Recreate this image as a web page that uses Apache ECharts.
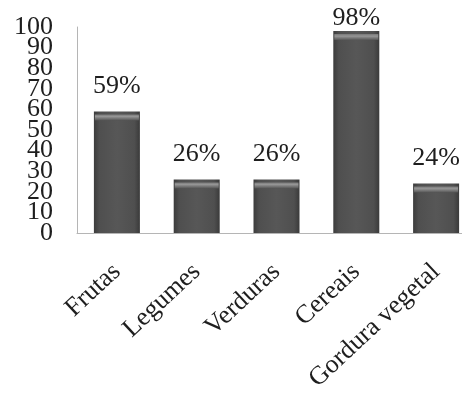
<!DOCTYPE html>
<html>
<head>
<meta charset="utf-8">
<script src="https://cdn.jsdelivr.net/npm/echarts@6/dist/echarts.min.js"></script>
<style>
  html, body { margin: 0; padding: 0; background: #ffffff; }
  #chart { width: 462px; height: 394px; }
</style>
</head>
<body>
<div id="chart"></div>
<script>
// Food groups and their share (%)
const categories = ['Frutas', 'Legumes', 'Verduras', 'Cereais', 'Gordura vegetal'];
const values = [59, 26, 26, 98, 24];
const yTicks = [0, 10, 20, 30, 40, 50, 60, 70, 80, 90, 100];

const serif = '"Liberation Serif", "DejaVu Serif", serif';
const yMin = yTicks[0];
const yMax = yTicks[yTicks.length - 1];
const yStep = yTicks[1] - yTicks[0];

const chart = echarts.init(document.getElementById('chart'));

const barFill = new echarts.graphic.LinearGradient(0, 0, 1, 0, [
  { offset: 0, color: '#3c3c3c' },
  { offset: 0.12, color: '#4f4f4f' },
  { offset: 0.5, color: '#575757' },
  { offset: 0.88, color: '#4f4f4f' },
  { offset: 1, color: '#3a3a3a' }
]);
const capFill = new echarts.graphic.LinearGradient(0, 0, 0, 1, [
  { offset: 0, color: '#7a7a7a' },
  { offset: 0.35, color: '#959595' },
  { offset: 1, color: '#545454' }
]);

const yLabelStyle = {
  margin: 24,
  hideOverlap: false,
  fontFamily: serif,
  fontSize: 26,
  color: '#1e1e1e'
};

chart.setOption({
  animation: false,
  backgroundColor: '#ffffff',
  grid: {
    left: 77, top: 27, right: -14, bottom: 161,
    containLabel: false,
    outerBoundsMode: 'none'
  },
  xAxis: {
    type: 'category',
    data: categories,
    axisLine: { show: true, lineStyle: { color: '#b5b5b5', width: 1 } },
    axisTick: { show: false },
    axisLabel: {
      rotate: 43,
      interval: 0,
      margin: 35,
      hideOverlap: false,
      fontFamily: serif,
      fontSize: 26,
      color: '#1e1e1e'
    }
  },
  yAxis: [
    {
      // inner tick labels (10 … 90) and the axis line
      type: 'value',
      position: 'left',
      min: yMin,
      max: yMax,
      interval: yStep,
      axisLine: { show: true, lineStyle: { color: '#b5b5b5', width: 1 } },
      axisTick: { show: false },
      splitLine: { show: false },
      axisLabel: Object.assign({ showMinLabel: false, showMaxLabel: false }, yLabelStyle)
    },
    {
      // end labels (0 and 100) on the same scale
      type: 'value',
      position: 'left',
      offset: 0,
      min: yMin,
      max: yMax,
      interval: yMax - yMin,
      axisLine: { show: false },
      axisTick: { show: false },
      splitLine: { show: false },
      axisLabel: Object.assign({ showMinLabel: true, showMaxLabel: true }, yLabelStyle)
    }
  ],
  series: [
    {
      type: 'bar',
      yAxisIndex: 0,
      barWidth: 46,
      data: values.map(v => ({
        value: v,
        label: { distance: v > 90 ? 0 : 12 }
      })),
      itemStyle: { color: barFill },
      label: {
        show: true,
        position: 'top',
        formatter: p => p.value + '%',
        fontFamily: serif,
        fontSize: 26,
        color: '#1e1e1e'
      },
      z: 2
    },
    {
      // light bevel along the top edge of each bar
      type: 'pictorialBar',
      yAxisIndex: 0,
      symbol: 'rect',
      symbolSize: [44, 6],
      symbolPosition: 'end',
      symbolOffset: [0, '50%'],
      data: values,
      itemStyle: { color: capFill },
      silent: true,
      z: 3
    }
  ]
});
</script>
</body>
</html>
